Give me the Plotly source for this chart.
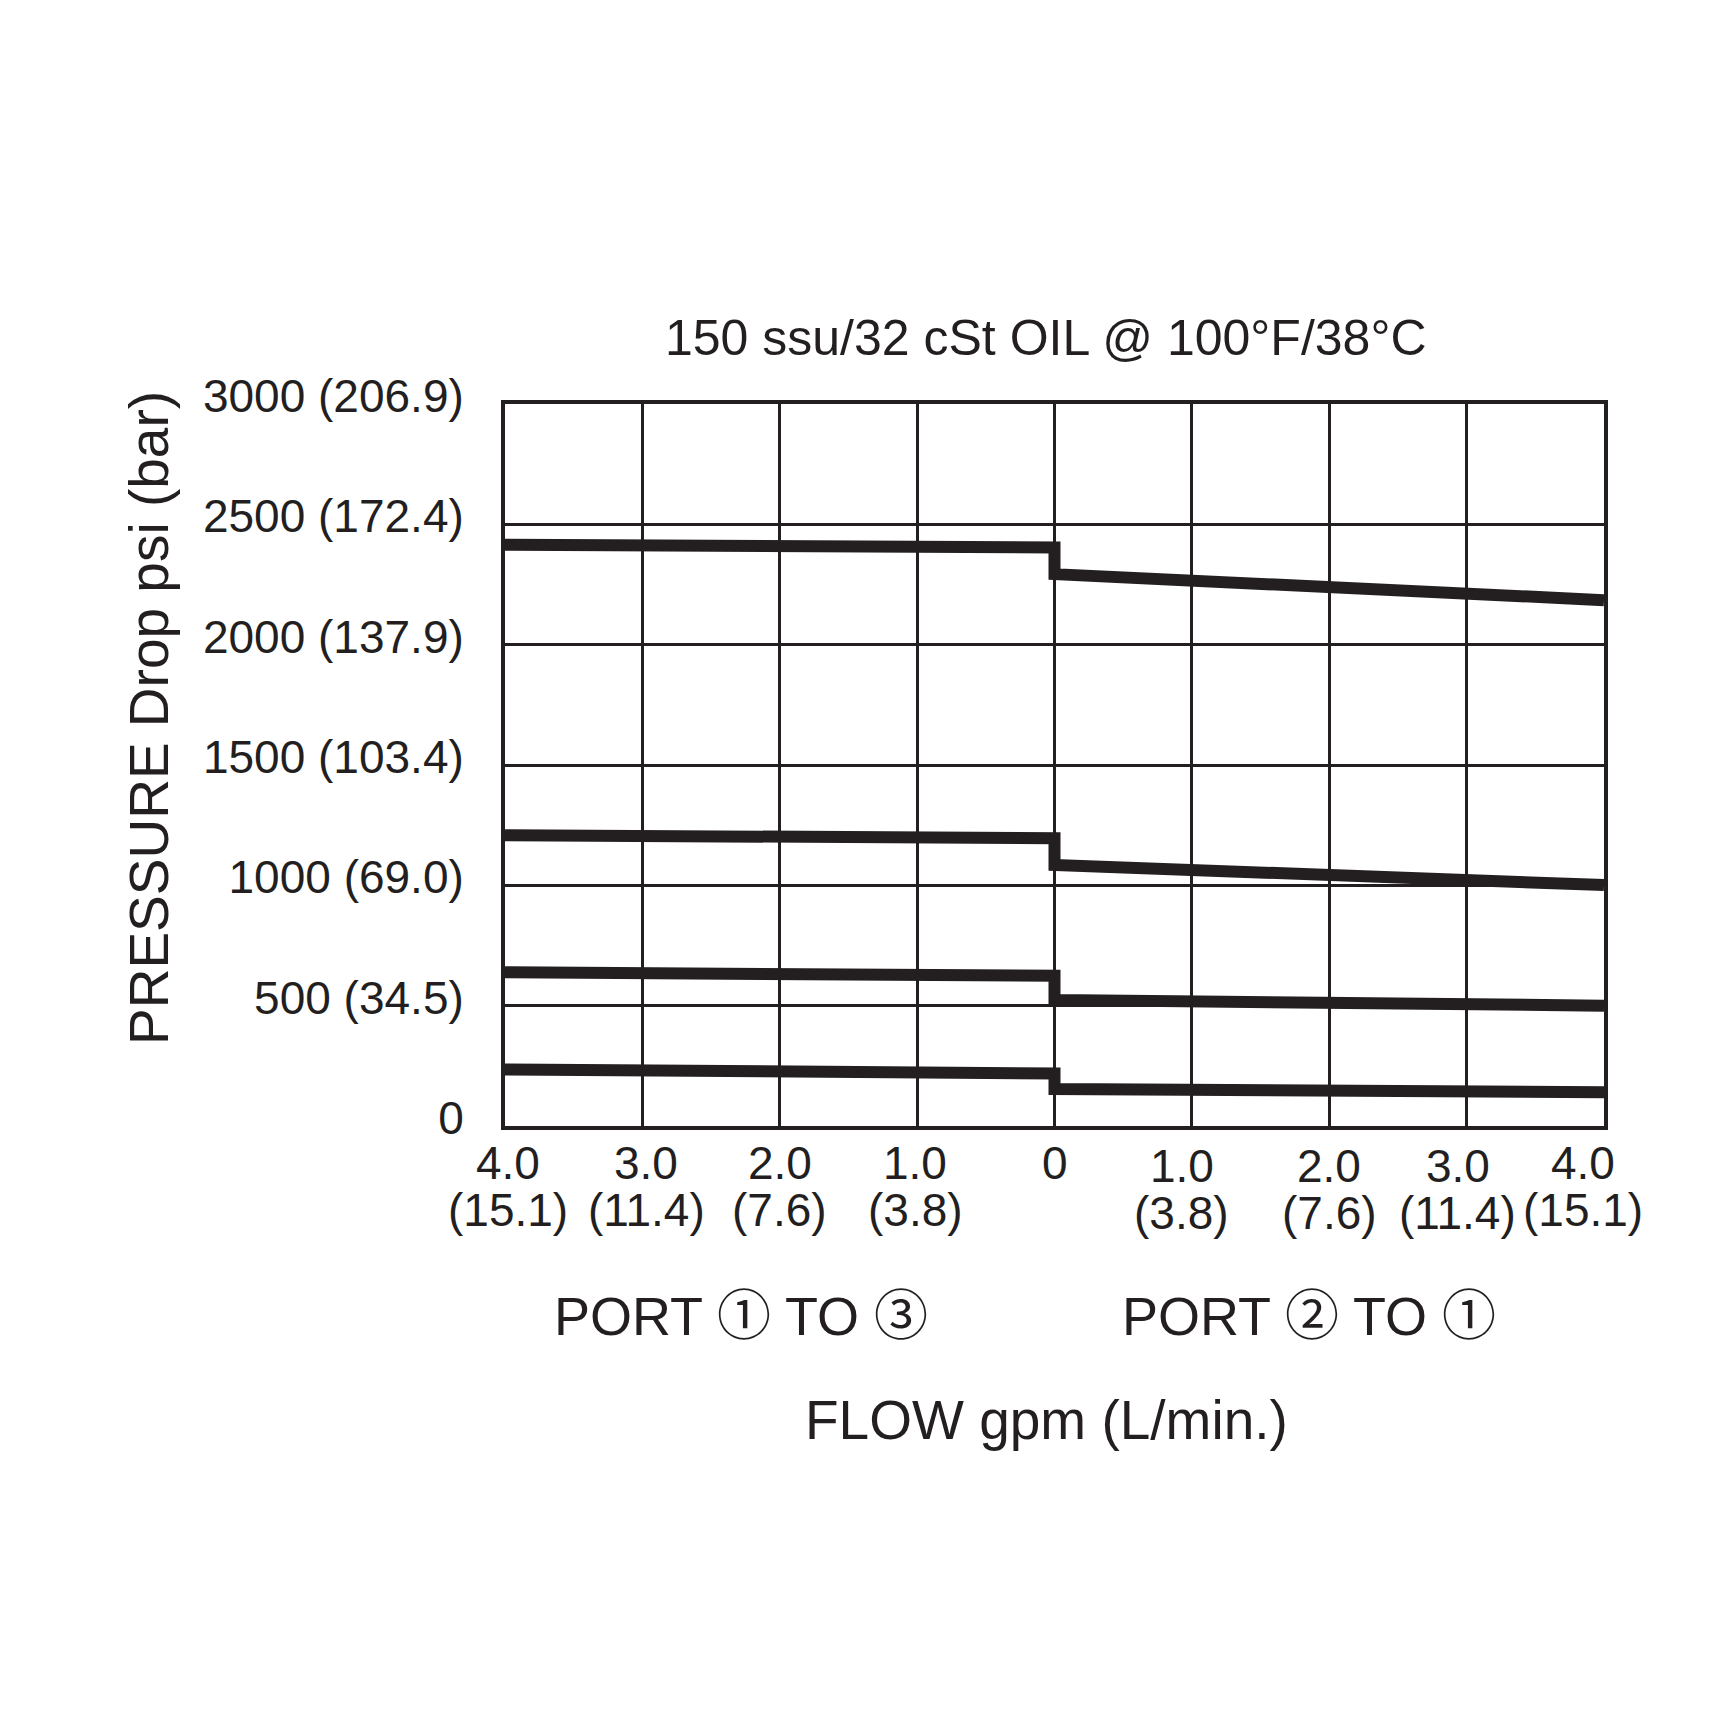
import plotly.graph_objects as go

# flow positions: negative = port 1 to 3 side, positive = port 2 to 1 side
flow_x = [-4, 0, 0, 4]

# pressure drop (psi) for each curve
curve_a = [2415, 2404, 2293, 2185]
curve_b = [1208, 1196, 1085, 1001]
curve_c = [639, 624, 524, 500]
curve_d = [235, 218, 154, 140]

psi_ticks = [0, 500, 1000, 1500, 2000, 2500, 3000]
psi_labels = ["0", "500 (34.5)", "1000 (69.0)", "1500 (103.4)",
              "2000 (137.9)", "2500 (172.4)", "3000 (206.9)"]

flow_ticks = [-4, -3, -2, -1, 0, 1, 2, 3, 4]
gpm_labels = ["4.0", "3.0", "2.0", "1.0", "0", "1.0", "2.0", "3.0", "4.0"]
lpm_labels = ["(15.1)", "(11.4)", "(7.6)", "(3.8)", "", "(3.8)", "(7.6)", "(11.4)", "(15.1)"]

INK = "#231f20"
FONT = "Liberation Sans, Arial, Helvetica, sans-serif"
CIRCLE_FONT = "Noto Sans CJK JP"

# plot area in pixels
W = H = 1710
L, R, T, B = 497, 1596, 396, 1118

# small pixel nudges of the x tick labels, as in the original artwork
label_nudge = [3, 4, 0, -2, 0, -10, 0, -9, -21]
label_drop = [0, 0, 0, 0, 0, 3, 3, 3, 0]


def px_x(px):
    return (px - L) / (R - L)


def px_y(py):
    return (B - py) / (B - T)


def label(text, x, y, size, xref="paper", angle=0, xshift=0):
    return dict(x=x, y=y, xref=xref, yref="paper", text=text, textangle=angle,
                xanchor="center", yanchor="middle", showarrow=False, xshift=xshift,
                font=dict(size=size, color=INK, family=FONT))


def circ(ch):
    return f'<span style="font-family:{CIRCLE_FONT}">{ch}</span>'


fig = go.Figure()
for ys in [curve_a, curve_b, curve_c, curve_d]:
    fig.add_trace(go.Scatter(x=flow_x, y=ys, mode="lines",
                             line=dict(color=INK, width=12),
                             showlegend=False, hoverinfo="skip"))

annotations = []
# x tick labels, two rows (gpm over L/min)
for xv, g, l, dx, dy in zip(flow_ticks, gpm_labels, lpm_labels, label_nudge, label_drop):
    annotations.append(label(g, xv, px_y(1155 + dy), 46, xref="x", xshift=dx))
    if l:
        annotations.append(label(l, xv, px_y(1202 + dy), 46, xref="x", xshift=dx))

annotations += [
    label("150 ssu/32 cSt OIL @ 100°F/38°C", px_x(1038), px_y(330), 50),
    label("PRESSURE Drop psi (bar)", px_x(141), px_y(710), 55, angle=-90),
    label(f"PORT {circ('①')} TO {circ('③')}", px_x(733), px_y(1303), 54),
    label(f"PORT {circ('②')} TO {circ('①')}", px_x(1301), px_y(1303), 54),
    label("FLOW gpm (L/min.)", px_x(1038), px_y(1412), 55),
]

fig.update_layout(
    width=W, height=H,
    margin=dict(l=L, r=W - R, t=T, b=H - B, pad=0),
    paper_bgcolor="white", plot_bgcolor="white",
    font=dict(family=FONT, color=INK),
    annotations=annotations,
    xaxis=dict(range=[-4, 4], tickvals=flow_ticks, showticklabels=False,
               showgrid=True, gridcolor=INK, gridwidth=3, zeroline=False,
               showline=True, linecolor=INK, linewidth=4, mirror=True,
               fixedrange=True),
    yaxis=dict(range=[0, 3000], tickvals=psi_ticks, ticktext=psi_labels,
               tickfont=dict(size=46, color=INK, family=FONT),
               ticklabelstandoff=28, ticklabelshift=-8,
               showgrid=True, gridcolor=INK, gridwidth=3, zeroline=False,
               showline=True, linecolor=INK, linewidth=4, mirror=True,
               fixedrange=True),
)

fig.write_html("out.html")
